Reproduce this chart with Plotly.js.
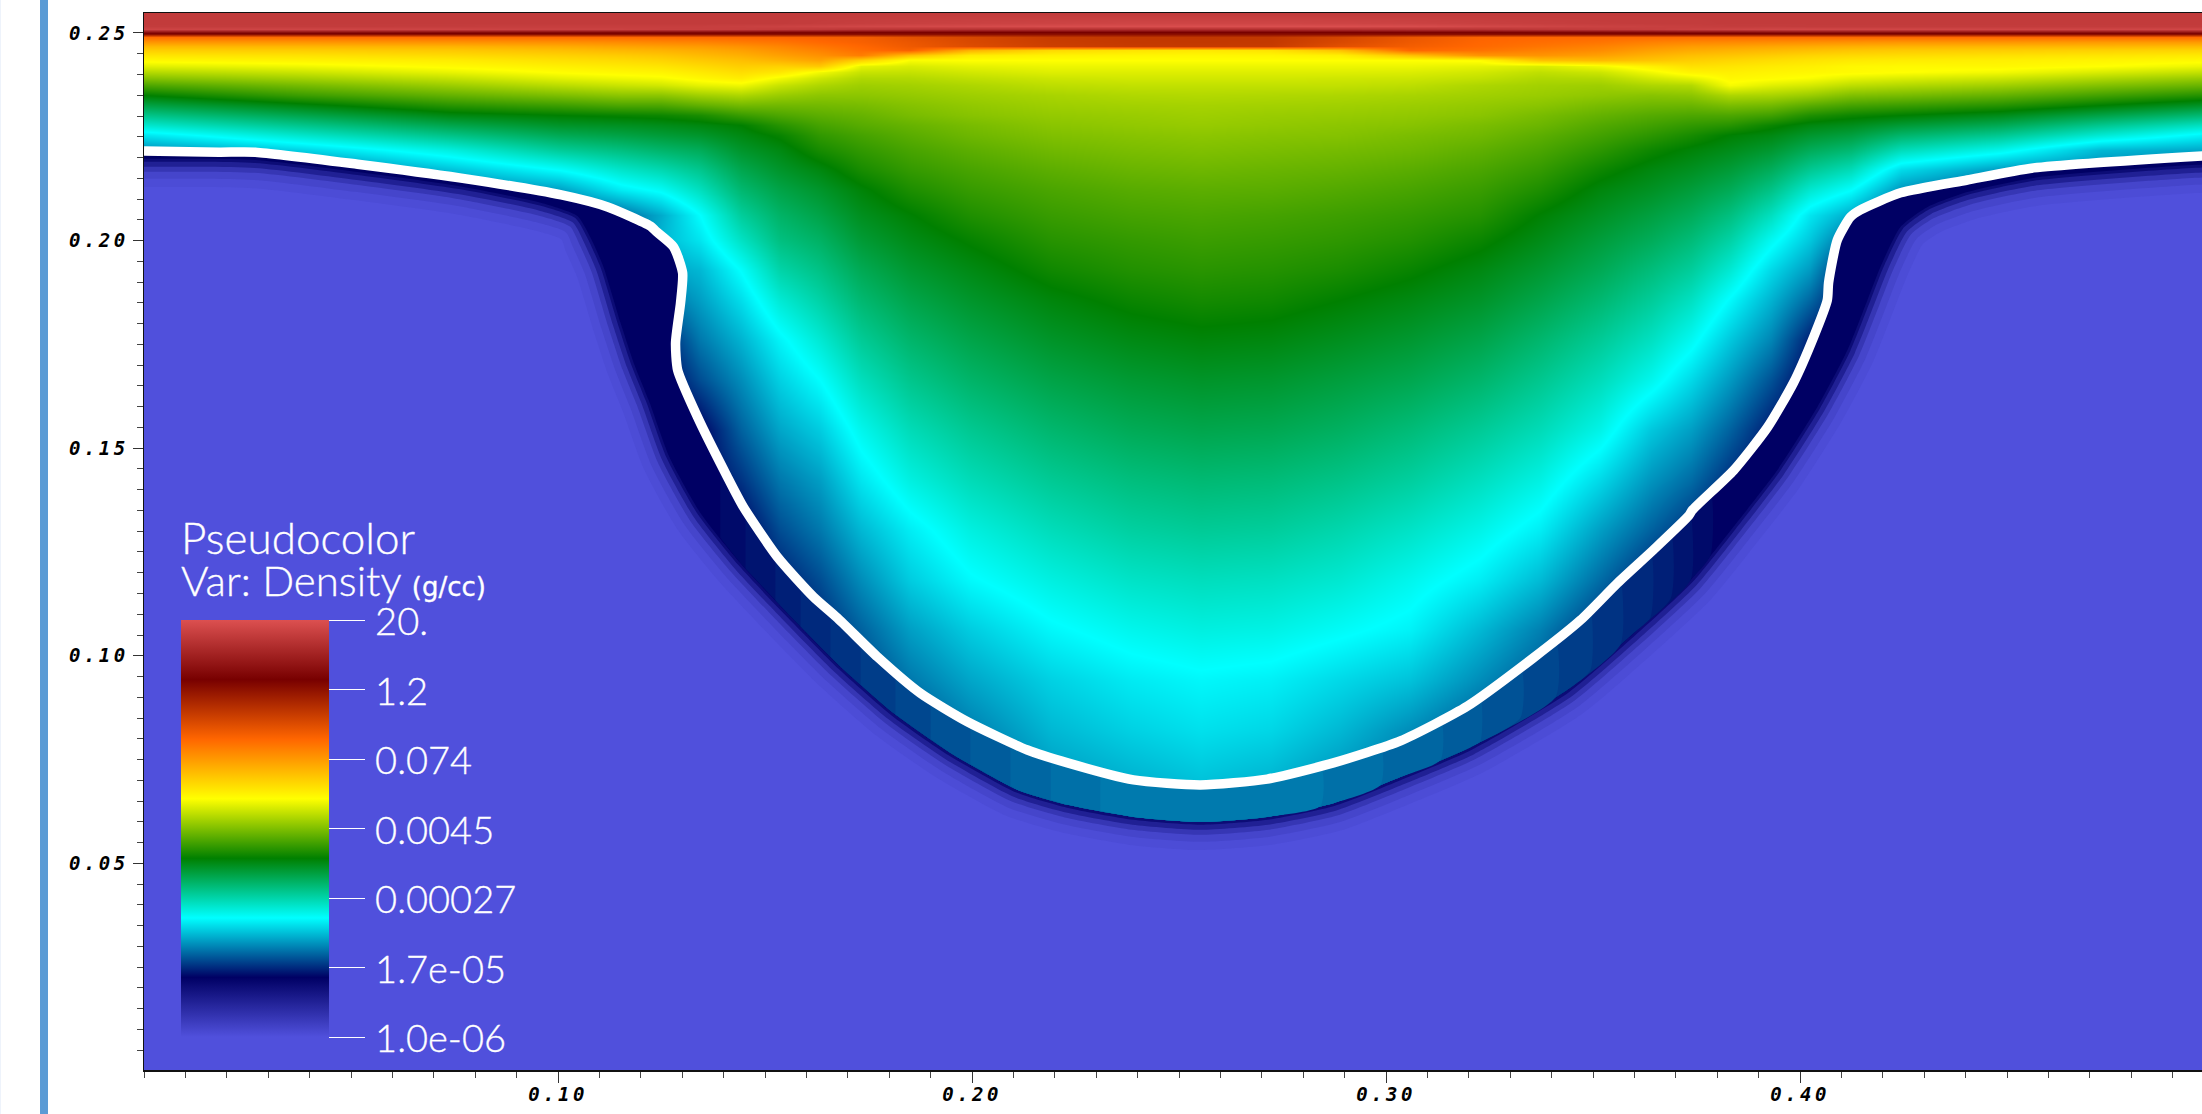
<!DOCTYPE html>
<html><head><meta charset="utf-8">
<script src="https://cdn.plot.ly/plotly-3.0.1.min.js"></script>
<style>
html,body{margin:0;padding:0;background:#fff;overflow:hidden}
#chart{width:2202px;height:1114px}
.xtick text,.ytick text{letter-spacing:3.5px}
.cbaxis text,.annotation-text{stroke:#fff;stroke-width:.35px}
</style></head><body><div id="chart"></div>
<script>
// Colour-bar labels (density, g/cc), bottom to top, and their colour-bar positions
const densityLabels = ['1.0e-06','1.7e-05','0.00027','0.0045','0.074','1.2','20.'];
const densityLevels = [0, 1.167, 2.333, 3.5, 4.667, 5.833, 7];
// Colour table stops at levels 0..7
const palette = [[80,80,220],[0,0,100],[0,255,255],[0,128,0],[255,255,0],[255,102,0],[120,0,0],[220,80,80]];

// Density field, in colour-bar level units (0..7)
const columnX = [0,.0378,.0740,.1006,.1151,.1248,.1344,.1441,.1537,.1634,.1731,.1851,.1996,.2190,.2383,.2552,.2721,.2890,.3059,.3228,.3373,.3518,.3639,.3736,.3832,.3929,.4025,.4122,.4243,.4484,.4726,.4973];
const rowY = [.2548,.2524,.2517,.2510,.2502,.2498,.2490, .2478,.2469,.2459,.2447,.2435, .2421,.2406,.2392,.2375, .2351,.2327,.2303,.2278,.2254, .2218,.2170,.2122, .2062,.2001,.1929,.1857, .1761,.1664,.1544,.1423,.1303, .1183,.1062,.0942,.0821,.0677,.0532];
// each column runs top to bottom along rowY; a short column keeps its last value below the shock
const levelColumns = [
[6.74,6.74,6.75,6.85,6.2,5.85,4.95, 4.68,4.47,4.32,4.17,4.04, 3.88,3.70,3.52,3.30, 3.0,2.73,2.46,2.19,1.9, 1.55,1.3,1.2, 1.1,1.0],
[6.74,6.74,6.75,6.86,6.2,5.85,4.95, 4.68,4.48,4.33,4.19,4.08, 3.94,3.79,3.64,3.46, 3.23,2.95,2.7,2.45,2.2, 1.82,1.4,1.2, 1.0],
[6.74,6.74,6.76,6.85,6.15,5.85,4.96, 4.7,4.5,4.36,4.24,4.12, 4.03,3.91,3.77,3.61, 3.39,3.16,2.93,2.7,2.47, 2.12,1.75,1.45, 1.2,1.0],
[6.74,6.74,6.78,6.82,6.12,5.85,4.96, 4.72,4.55,4.42,4.3,4.2, 4.1,4.01,3.89,3.73, 3.49,3.24,3.0,2.84,2.67, 2.4,2.0,1.62, 1.3,1.1,1.0],
[6.74,6.74,6.78,6.82,6.1,5.85,4.97, 4.75,4.6,4.47,4.34,4.24, 4.14,4.05,3.94,3.79, 3.55,3.3,3.03,2.87,2.73, 2.5,2.2,1.92, 1.42,1.2,1.1,1.0],
[6.74,6.74,6.78,6.8,6.1,5.85,4.98, 4.78,4.63,4.5,4.38,4.28, 4.17,4.07,3.97,3.82, 3.55,3.3,3.05,2.9,2.78, 2.58,2.3,2.03, 1.67,1.72,1.62,1.42, 1.12,1.0],
[6.74,6.74,6.78,6.8,6.1,5.85,4.99, 4.8,4.66,4.55,4.45,4.35, 4.24,4.14,4.05,3.9, 3.63,3.38,3.1,2.94,2.83, 2.65,2.44,2.25, 2.0,1.9,1.72,1.62, 1.47,1.3,1.0],
[6.74,6.74,6.8,6.78,6.08,5.85,5.0, 4.85,4.72,4.62,4.52,4.42, 4.32,4.22,4.12,3.94, 3.68,3.45,3.22,3.0,2.93, 2.83,2.69,2.56, 2.39,2.23,2.01,1.87, 1.7,1.55,1.38,1.2,1.0],
[6.74,6.74,6.82,6.75,6.05,5.85,5.02, 4.9,4.8,4.72,4.62,4.5, 4.3,4.15,3.95,3.78, 3.6,3.44,3.3,3.15,3.03, 2.93,2.83,2.72, 2.6,2.5,2.34,2.17, 1.96,1.82,1.65,1.47,1.3, 1.12,1.0],
[6.74,6.76,6.85,6.72,6.05,5.85,5.05, 4.98,4.9,4.82,4.72,4.6, 4.35,3.95,3.8,3.68, 3.55,3.45,3.36,3.27,3.19, 3.09,2.94,2.83, 2.72,2.61,2.48,2.35, 2.17,2.0,1.8,1.62,1.47, 1.3,1.15,1.0],
[6.74,6.78,6.88,6.68,6.02,5.85,5.08, 5.05,5.0,4.95,4.85,4.3, 3.9,3.78,3.69,3.62, 3.55,3.47,3.4,3.34,3.27, 3.19,3.09,2.97, 2.88,2.79,2.67,2.56, 2.41,2.26,2.07,1.9,1.72, 1.55,1.38,1.25,1.0],
[6.74,6.8,6.9,6.65,6.02,5.85,5.2, 5.15,5.12,5.05,4.4,3.98, 3.85,3.77,3.7,3.64, 3.58,3.52,3.47,3.4,3.35, 3.28,3.2,3.11, 2.99,2.91,2.81,2.71, 2.58,2.45,2.28,2.12,1.93, 1.8,1.62,1.47,1.3,1.2],
[6.74,6.82,6.92,6.62,6.0,5.85,5.3, 5.28,5.25,4.5,4.12,4.0, 3.9,3.82,3.75,3.68, 3.62,3.57,3.53,3.47,3.43, 3.36,3.28,3.21, 3.12,3.02,2.92,2.83, 2.71,2.59,2.43,2.28,2.12, 1.98,1.8,1.65,1.5,1.35,1.2],
[6.74,6.84,6.95,6.6,6.0,5.85,5.42, 5.4,5.38,4.25,4.08,4.0, 3.93,3.87,3.8,3.74, 3.66,3.62,3.58,3.54,3.5, 3.44,3.36,3.29, 3.22,3.15,3.06,2.955, 2.84,2.72,2.57,2.42,2.27, 2.12,1.97,1.82,1.72,1.58,1.45],
[6.74,6.86,6.96,6.58,6.0,5.85,5.45, 5.44,5.42,4.18,4.06,4.0, 3.93,3.87,3.82,3.76, 3.69,3.64,3.6,3.57,3.53, 3.48,3.41,3.34, 3.27,3.2,3.13,3.04, 2.92,2.8,2.66,2.51,2.37, 2.22,2.07,1.92,1.82,1.67,1.55],
[6.74,6.86,6.97,6.58,6.0,5.85,5.46, 5.45,5.43,4.15,4.05,4.0, 3.93,3.87,3.82,3.76, 3.7,3.65,3.62,3.59,3.55, 3.5,3.43,3.36, 3.29,3.23,3.16,3.08, 2.96,2.84,2.7,2.55,2.41, 2.26,2.12,1.97,1.88,1.74,1.6],
[6.74,6.86,6.97,6.58,6.0,5.85,5.45, 5.44,5.42,4.18,4.06,4.0, 3.93,3.87,3.82,3.76, 3.69,3.64,3.6,3.57,3.53, 3.48,3.41,3.35, 3.27,3.21,3.14,3.06, 2.94,2.82,2.68,2.53,2.39, 2.24,2.1,1.94,1.84,1.68,1.55],
[6.74,6.85,6.97,6.6,6.0,5.85,5.32, 5.28,5.22,4.4,4.1,4.0, 3.93,3.87,3.81,3.76, 3.68,3.63,3.59,3.55,3.52, 3.46,3.39,3.32, 3.24,3.18,3.1,3.0, 2.88,2.76,2.62,2.47,2.32, 2.18,2.03,1.85,1.72,1.55,1.4],
[6.74,6.83,6.95,6.62,6.02,5.85,5.15, 5.12,5.08,5.0,4.4,4.0, 3.93,3.86,3.8,3.74, 3.66,3.61,3.57,3.53,3.48, 3.43,3.35,3.28, 3.2,3.13,3.03,2.93, 2.81,2.69,2.53,2.38,2.22, 2.07,1.95,1.76,1.55,1.4,1.3],
[6.74,6.8,6.9,6.65,6.02,5.85,5.02, 5.0,4.98,4.92,4.7,4.02, 3.9,3.82,3.76,3.68, 3.63,3.58,3.54,3.48,3.44, 3.37,3.29,3.22, 3.14,3.04,2.93,2.84, 2.71,2.58,2.41,2.25,2.09, 1.93,1.72,1.55,1.35,1.2,1.1],
[6.74,6.78,6.86,6.7,6.05,5.85,5.0, 4.95,4.9,4.82,4.7,4.4, 3.85,3.75,3.69,3.64, 3.6,3.54,3.47,3.42,3.36, 3.29,3.2,3.11, 2.99,2.91,2.81,2.71, 2.57,2.44,2.28,2.11,1.93, 1.73,1.5,1.35,1.2,1.1,1.0],
[6.74,6.76,6.82,6.75,6.08,5.85,4.98, 4.9,4.82,4.75,4.62,4.45, 3.95,3.8,3.7,3.62, 3.56,3.47,3.39,3.32,3.26, 3.17,3.05,2.95, 2.86,2.77,2.67,2.56, 2.41,2.27,2.09,1.85,1.62, 1.42,1.2,1.05,1.0],
[6.74,6.75,6.8,6.78,6.1,5.85,4.97, 4.82,4.72,4.62,4.5,4.38, 4.1,3.95,3.82,3.68, 3.53,3.43,3.33,3.25,3.17, 3.05,2.94,2.86, 2.75,2.65,2.52,2.4, 2.24,2.07,1.78,1.58,1.38, 1.15,1.0],
[6.74,6.75,6.78,6.82,6.15,5.85,4.96, 4.78,4.65,4.55,4.42,4.32, 4.2,4.08,3.9,3.7, 3.55,3.42,3.3,3.19,3.09, 2.97,2.87,2.77, 2.65,2.53,2.39,2.24, 2.05,1.85,1.62,1.42,1.2, 1.0],
[6.74,6.74,6.76,6.85,6.15,5.85,4.96, 4.76,4.62,4.5,4.38,4.27, 4.17,4.1,4.05,3.97, 3.68,3.48,3.3,3.15,2.99, 2.9,2.78,2.66, 2.5,2.35,2.17,1.98, 1.78,1.6,1.38,1.18,1.0],
[6.74,6.74,6.76,6.87,6.18,5.85,4.96, 4.74,4.58,4.46,4.33,4.22, 4.13,4.07,4.02,3.88, 3.66,3.45,3.25,3.04,2.93, 2.81,2.64,2.47, 2.25,2.05,1.85,1.7, 1.52,1.32,1.1,1.0],
[6.74,6.74,6.75,6.88,6.2,5.85,4.96, 4.72,4.55,4.42,4.28,4.18, 4.1,4.05,3.98,3.83, 3.6,3.35,3.12,2.94,2.82, 2.65,2.42,2.18, 1.9,1.78,1.6,1.4, 1.12,1.0],
[6.74,6.74,6.75,6.88,6.2,5.85,4.96, 4.7,4.52,4.38,4.25,4.14, 4.05,4.03,3.9,3.74, 3.5,3.27,3.05,2.89,2.75, 2.55,2.27,2.0, 1.67,1.4,1.1,1.0],
[6.74,6.74,6.75,6.88,6.2,5.85,4.96, 4.68,4.5,4.35,4.23,4.12, 4.04,4.0,3.86,3.7, 3.47,3.23,3.0,2.79,2.58, 2.27,1.85,1.58, 1.3,1.1,1.0],
[6.74,6.74,6.75,6.87,6.2,5.85,4.96, 4.68,4.48,4.33,4.2,4.1, 4.05,3.95,3.8,3.63, 3.39,3.15,2.9,2.67,2.43, 2.07,1.6,1.3, 1.1,1.0],
[6.74,6.74,6.75,6.87,6.2,5.85,4.96, 4.65,4.47,4.3,4.17,4.07, 4.0,3.85,3.69,3.51, 3.26,3.0,2.72,2.44,2.17, 1.72,1.5,1.2, 1.0],
[6.74,6.74,6.75,6.88,6.25,5.85,4.96, 4.65,4.45,4.28,4.14,4.04, 3.92,3.76,3.59,3.41, 3.14,2.85,2.55,2.24,1.95, 1.65,1.4,1.1, 1.0]
];

// White shock line
const shockX = [0,.0182,.0269,.0516,.0762,.1008,.1120,.1223,.1236,.1279,.1301,.1296,.1284,.1289,.1337,.1409,.1448,.1530,.1617,.1675,.1772,.1875,.1989,.2134,.2231,.2390,.2552,.2713,.2873,.3035,.3197,.3356,.3470,.3559,.3646,.3731,.3740,.3840,.3922,.3984,.4033,.4066,.4069,.4090,.4122,.4146,.4243,.4404,.4564,.4973];
const shockY = [.2216,.2213,.2213,.2184,.2151,.2110,.2081,.2035,.2023,.1985,.1922,.1850,.1754,.1688,.1575,.1431,.1358,.1238,.1142,.1091,.0997,.0910,.0841,.0773,.0742,.0701,.0689,.0703,.0742,.0795,.0879,.0995,.1086,.1175,.1255,.1337,.1351,.1447,.1551,.1657,.1768,.1857,.1898,.2001,.2057,.2074,.2115,.2146,.2175,.2204];
// Lower edge of the dark shell under the shock
const shellX = [0,.0269,.0516,.0762,.0958,.1047,.1079,.1110,.1151,.1185,.1219,.1269,.1344,.1441,.1554,.1683,.1810,.1948,.2110,.2231,.2390,.2552,.2713,.2873,.3035,.3204,.3438,.3598,.3736,.3839,.3945,.4042,.4115,.4163,.4194,.4243,.4308,.4404,.4564,.4973];
const shellY = [.2197,.2194,.2165,.2131,.2091,.2059,.2006,.1936,.1802,.1700,.1616,.1479,.1344,.1223,.1103,.0973,.0862,.0766,.0677,.0641,.0612,.0600,.0612,.0645,.0708,.0780,.0918,.1055,.1183,.1310,.1447,.1599,.1737,.1857,.1936,.2033,.2081,.2117,.2151,.2183];
// Soft fringe outside the shell: [distance in data units, level]
const fringeSteps = [[.0068,.05],[.0048,.14],[.0031,.33],[.0019,.6],[.0007,.85]];
// Lighter stretch of the shell at the bottom of the crater: [x from, x to, level]
const shellGlow = [[.1392,.3784,1.04],[.1453,.3736,1.08],[.1525,.3688,1.12],[.1586,.3639,1.16],[.1658,.3567,1.2],[.1731,.3494,1.24],[.1815,.3410,1.28],[.1900,.3325,1.32],[.1996,.3228,1.36],[.2093,.3132,1.4],[.2190,.2987,1.44],[.2310,.2842,1.48]];

const xRange = [0,.4971], yRange = [.00024,.25481];
const OFF_L = -.02, OFF_R = .52; // polygon closures run off the plot so they never show

function levelColor(k){
  const i = Math.min(6,Math.floor(k)), f = k-i;
  const c = palette[i].map((v,j)=>Math.round(v+(palette[i+1][j]-v)*f));
  return `rgb(${c[0]},${c[1]},${c[2]})`;
}
function area(xs,ys,k){
  return {type:'scatter',mode:'lines',x:xs,y:ys,fill:'toself',fillcolor:levelColor(k),
          line:{width:0,color:levelColor(k),shape:'spline',smoothing:.6},hoverinfo:'skip',showlegend:false};
}
// a path carried off both sides of the plot at its end heights
const padX = xs=>[OFF_L].concat(xs,[OFF_R]);
const padY = ys=>[ys[0]].concat(ys,[ys[ys.length-1]]);
const rev = a=>a.slice().reverse();
// part of a read-off path between two x positions, cut exactly at those positions
function cutPath(xs,ys,a,b){
  const ox=[],oy=[];
  for(let i=0;i<xs.length;i++){
    if(i>0){
      [a,b].forEach(c=>{
        if(xs[i-1]<c&&xs[i]>=c){const t=(c-xs[i-1])/(xs[i]-xs[i-1]);ox.push(c);oy.push(ys[i-1]+t*(ys[i]-ys[i-1]));}
      });
    }
    if(xs[i]>a&&xs[i]<b){ox.push(xs[i]);oy.push(ys[i]);}
  }
  return [ox,oy];
}
const zRows = rowY.map((_,r)=>levelColumns.map(col=> r<col.length ? col[r] : col[col.length-1]));
const yAsc = rowY.slice().reverse(), zAsc = zRows.slice().reverse();

const traces = [{
  type:'heatmap',x:columnX,y:yAsc,z:zAsc,zsmooth:'best',zmin:0,zmax:7,hoverinfo:'skip',
  colorscale:palette.map((c,i)=>[i/7,`rgb(${c[0]},${c[1]},${c[2]})`]),
  colorbar:{x:.018,xanchor:'left',xpad:0,y:.4257,yanchor:'top',ypad:0,len:417,lenmode:'pixels',thickness:148,
    outlinewidth:0,borderwidth:0,bgcolor:'rgba(0,0,0,0)',
    tickmode:'array',tickvals:densityLevels,ticktext:densityLabels,ticks:'outside',ticklen:36,tickwidth:1,tickcolor:'#fff',
    tickfont:{family:'Lato, sans-serif',size:38,color:'#fff',weight:300}}
}];
const topX = padX(shockX), topY = padY(shockY);
// Undisturbed medium below the shock
traces.push(area(topX.concat([OFF_R,OFF_L]),topY.concat([-.05,-.05]),0));
// Fringe: the shell edge pushed outward along its normal
fringeSteps.forEach(([d,k])=>{
  const ox=[],oy=[];
  shellX.forEach((x,i)=>{
    const a=Math.max(0,i-1),b=Math.min(shellX.length-1,i+1);
    const tx=shellX[b]-shellX[a],ty=shellY[b]-shellY[a],n=Math.hypot(tx,ty);
    ox.push(x+d*ty/n); oy.push(shellY[i]-d*tx/n);
  });
  traces.push(area(topX.concat(rev(padX(ox))),topY.concat(rev(padY(oy))),k));
});
// Dark shell
traces.push(area(topX.concat(rev(padX(shellX))),topY.concat(rev(padY(shellY))),1));
// Lighter crescents along the shell
shellGlow.forEach(([a,b,k])=>{
  const [tx,ty]=cutPath(shockX,shockY,a,b), [ex,ey]=cutPath(shellX,shellY,a,b);
  traces.push(area(tx.concat(rev(ex)),ty.concat(rev(ey)),k));
});
// Shock line
traces.push({type:'scatter',mode:'lines',x:shockX,y:shockY,line:{color:'#ffffff',width:9.5,shape:'spline',smoothing:.6},hoverinfo:'skip',showlegend:false});

const tickFont = {family:'"DejaVu Sans Mono", monospace',size:19,color:'#000',weight:700,style:'italic'};
const layout = {
  width:2202,height:1114,margin:{l:144,r:0,t:13,b:44,pad:0,autoexpand:false},
  paper_bgcolor:'#fff',plot_bgcolor:'rgb(80,80,220)',showlegend:false,
  xaxis:{range:xRange,showgrid:false,zeroline:false,showline:true,linecolor:'#111',linewidth:1.5,mirror:true,
    tickmode:'array',tickvals:[.1,.2,.3,.4],ticktext:['0.10','0.20','0.30','0.40'],ticks:'outside',ticklen:11,tickwidth:1,tickcolor:'#333',tickfont:tickFont,ticklabelstandoff:-4,
    minor:{ticks:'outside',ticklen:6,tickwidth:1,tickcolor:'#444',tickmode:'linear',tick0:0,dtick:.01,showgrid:false}},
  yaxis:{range:yRange,showgrid:false,zeroline:false,showline:true,linecolor:'#111',linewidth:1.5,
    tickmode:'array',tickvals:[.05,.1,.15,.2,.25],ticktext:['0.05','0.10','0.15','0.20','0.25'],ticks:'outside',ticklen:10,tickwidth:1,tickcolor:'#333',tickfont:tickFont,
    minor:{ticks:'outside',ticklen:6,tickwidth:1,tickcolor:'#444',tickmode:'linear',tick0:0,dtick:.005,showgrid:false}},
  shapes:[
    {type:'rect',xref:'paper',yref:'paper',x0:-.05053,x1:-.04665,y0:-.05,y1:1.02,fillcolor:'#5b9bd5',line:{width:0}},
    {type:'rect',xref:'paper',yref:'paper',x0:-.07,x1:-.0695,y0:-.05,y1:1.02,fillcolor:'#eef3fb',line:{width:0}}
  ],
  annotations:[
    {xref:'paper',yref:'paper',x:.0175,y:.504,xanchor:'left',yanchor:'middle',showarrow:false,align:'left',borderpad:0,
     text:'Pseudocolor',font:{family:'Lato, sans-serif',size:44,color:'#fff',weight:300}},
    {xref:'paper',yref:'paper',x:.0175,y:.464,xanchor:'left',yanchor:'middle',showarrow:false,align:'left',borderpad:0,
     text:'Var: Density <span style="font-size:26px;font-family:\'DejaVu Sans\';font-weight:400">(g/cc)</span>',font:{family:'Lato, sans-serif',size:42,color:'#fff',weight:300}}
  ]
};
Plotly.newPlot('chart',traces,layout,{displayModeBar:false,staticPlot:true}).then(()=>{
  document.querySelectorAll('.cbaxis text, .colorbar .ticks + g text').forEach(t=>{t.setAttribute('dx','3');t.setAttribute('dy','2');});
});
</script></body></html>
